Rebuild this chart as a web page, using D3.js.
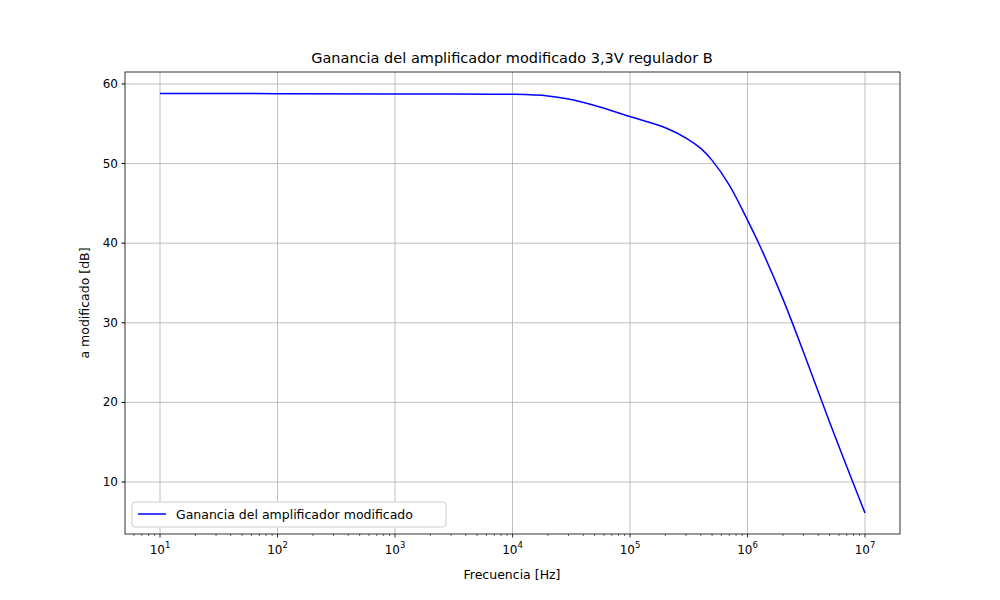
<!DOCTYPE html>
<html><head><meta charset="utf-8">
<script src="https://cdn.jsdelivr.net/npm/d3@7"></script>
<style>body{margin:0;background:#fff}text{font-family:"DejaVu Sans",sans-serif}</style>
</head><body><svg id="c" width="1000" height="600"></svg>
<script>
const freq = [10, 100, 1000, 1e4, 2e4, 3e4, 5e4, 1e5, 2e5, 3e5, 4e5, 5e5, 7e5, 1e6, 1.3e6, 2e6, 3e6, 5e6, 1e7];
const gain = [58.8, 58.78, 58.75, 58.7, 58.5, 58.1, 57.3, 55.9, 54.5, 53.2, 51.9, 50.4, 47.3, 42.9, 39.4, 33.0, 26.3, 17.5, 6.1];
const xTickExp = [1,2,3,4,5,6,7];
const yTicks = [10,20,30,40,50,60];

const svg = d3.select("#c");
const L=125,R=900,T=72,B=534;
const x = d3.scaleLog().domain([Math.pow(10,0.702),Math.pow(10,7.298)]).range([L,R]);
const y = d3.scaleLinear().domain([3.47,61.5]).range([B,T]);

const g = svg.append("g");
xTickExp.forEach(e=>g.append("line").attr("x1",x(Math.pow(10,e))).attr("x2",x(Math.pow(10,e))).attr("y1",T).attr("y2",B).attr("stroke","#b0b0b0").attr("stroke-width",0.8));
yTicks.forEach(v=>g.append("line").attr("x1",L).attr("x2",R).attr("y1",y(v)).attr("y2",y(v)).attr("stroke","#b0b0b0").attr("stroke-width",0.8));

g.append("path").datum(freq.map((f,i)=>[f,gain[i]]))
 .attr("d",d3.line().x(d=>x(d[0])).y(d=>y(d[1])).curve(d3.curveCatmullRom.alpha(0.5)))
 .attr("fill","none").attr("stroke","blue").attr("stroke-width",1.5);

g.append("rect").attr("x",L).attr("y",T).attr("width",R-L).attr("height",B-T).attr("fill","none").attr("stroke","#000").attr("stroke-width",0.8);

for(let e=0;e<=7;e++){for(let m=1;m<10;m++){const v=m*Math.pow(10,e);const px=x(v);if(px<L||px>R)continue;
 g.append("line").attr("x1",px).attr("x2",px).attr("y1",B).attr("y2",B+(m===1?3.5:2)).attr("stroke","#000").attr("stroke-width",m===1?0.8:0.6);}}
xTickExp.forEach(e=>{const t=g.append("text").attr("x",x(Math.pow(10,e))).attr("y",B+20).attr("text-anchor","middle").attr("font-size",12);
 t.append("tspan").text("10");t.append("tspan").attr("dy",-6).attr("font-size",8.5).text(e);});
yTicks.forEach(v=>{g.append("line").attr("x1",L-3.5).attr("x2",L).attr("y1",y(v)).attr("y2",y(v)).attr("stroke","#000");
 g.append("text").attr("x",L-7).attr("y",y(v)+4).attr("text-anchor","end").attr("font-size",12).text(v);});

svg.append("text").attr("x",512).attr("y",63).attr("text-anchor","middle").attr("font-size",14.5).text("Ganancia del amplificador modificado 3,3V regulador B");
svg.append("text").attr("x",512).attr("y",579).attr("text-anchor","middle").attr("font-size",12.5).text("Frecuencia [Hz]");
svg.append("text").attr("transform","translate(89,303) rotate(-90)").attr("text-anchor","middle").attr("font-size",12.5).text("a modificado [dB]");

const lg=svg.append("g");
lg.append("rect").attr("x",132).attr("y",502).attr("width",314).attr("height",25).attr("rx",3).attr("fill","#fff").attr("stroke","#ccc");
lg.append("line").attr("x1",138).attr("x2",166).attr("y1",514).attr("y2",514).attr("stroke","blue").attr("stroke-width",1.5);
lg.append("text").attr("x",176).attr("y",519).attr("font-size",12.5).text("Ganancia del amplificador modificado");
</script></body></html>
